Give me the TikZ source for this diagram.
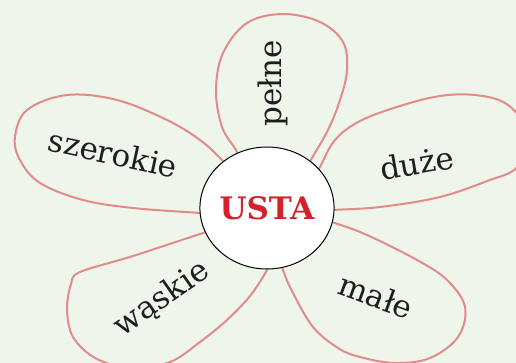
\documentclass[tikz,border=0pt]{standalone}
\usepackage{fontspec}
\setmainfont{DejaVu Serif}
\usetikzlibrary{shapes.geometric}

\definecolor{bgreen}{HTML}{EEF5EA}
\definecolor{petalred}{HTML}{E38B8A}
\definecolor{ustared}{HTML}{D2222B}
\definecolor{inkgray}{HTML}{1E1E1E}

\begin{document}
\begin{tikzpicture}[
    x=1pt, y=-1pt,
    petal/.style={
        draw=petalred, line width=2pt,
        line join=round
    },
    word/.style={
        font=\fontsize{31}{36}\selectfont,
        text=inkgray, inner sep=0pt
    },
    centre/.style={
        ellipse, draw=black, line width=1pt, fill=white,
        minimum width=130pt, minimum height=122pt,
        inner sep=0pt, text=ustared,
        font=\fontsize{31}{36}\selectfont\bfseries
    }
]

\fill[bgreen] (0,0) rectangle (516,363);
\useasboundingbox (0,0) rectangle (516,363);
\clip (0,0) rectangle (516,363);

% petals
\draw[petal] plot[smooth, tension=0.6] coordinates {
    (245,175) (237,152) (222,127) (216,90) (223,53) (247,23) (283,14)
    (320,22) (343,42) (347,70) (340,100) (328,130) (312,158) (300,180)};
\draw[petal] plot[smooth, tension=0.6] coordinates {
    (310,185) (320,167) (335,140) (360,121) (400,106) (440,96) (475,95)
    (505,103) (525,125) (527,150) (514,170) (490,180) (440,197) (380,207)
    (333,210) (310,212)};
\draw[petal] plot[smooth, tension=0.6] coordinates {
    (310,215) (332,222) (367,235) (417,260) (447,280) (465,307) (458,337)
    (430,358) (395,363) (360,357) (338,348) (313,327) (293,293) (283,270)
    (278,250)};
\draw[petal] plot[smooth, tension=0.55] coordinates {
    (275,250) (267,270) (250,296) (227,320) (200,342) (170,362) (130,368)
    (95,358) (73,337) (67,310) (71,284) (80,272) (133,256) (203,233)
    (225,226)};
\draw[petal] plot[smooth, tension=0.6] coordinates {
    (225,215) (200,213) (133,208) (83,200) (40,183) (20,160) (15,137)
    (27,110) (67,95) (117,100) (167,120) (200,140) (222,160) (235,175)};

\node (usta) [centre] at (267,208) {USTA};

\node (pelne)    [word, rotate=90]  at (273,83)  {pełne};
\node (duze)     [word, rotate=10]  at (417,163) {duże};
\node (male)     [word, rotate=-20] at (376,296) {małe};
\node (waskie)   [word, rotate=35]  at (162,299) {wąskie};
\node (szerokie) [word, rotate=-12] at (113,153) {szerokie};

\end{tikzpicture}
\end{document}
